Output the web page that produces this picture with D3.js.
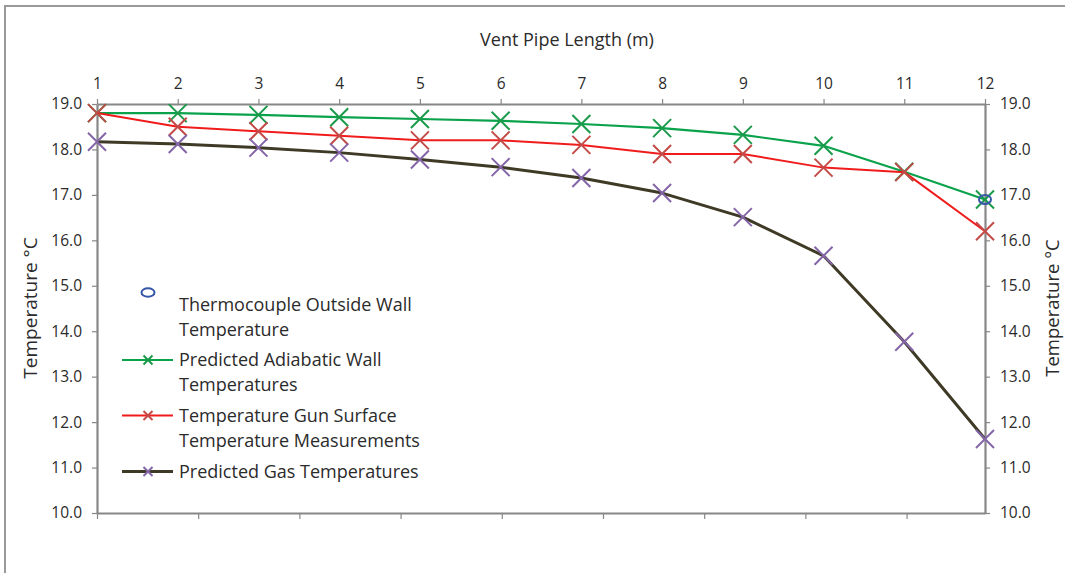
<!DOCTYPE html>
<html>
<head>
<meta charset="utf-8">
<script src="https://cdn.jsdelivr.net/npm/d3@7"></script>
<style>
  body { margin: 0; background: #fff; }
  svg { display: block; font-family: "Open Sans", Lato, sans-serif; }
</style>
</head>
<body>
<svg id="chart" width="1065" height="573"></svg>
<script>
// ---- data ----
const lengths = [1, 2, 3, 4, 5, 6, 7, 8, 9, 10, 11, 12];
const adiabaticWall = [18.80, 18.80, 18.76, 18.71, 18.67, 18.63, 18.56, 18.47, 18.32, 18.08, 17.51, 16.90];
const gunSurface = [18.8, 18.5, 18.4, 18.3, 18.2, 18.2, 18.1, 17.9, 17.9, 17.6, 17.5, 16.2];
const gasTemps = [18.17, 18.12, 18.04, 17.93, 17.78, 17.61, 17.37, 17.04, 16.51, 15.66, 13.77, 11.63];
const thermoLength = [12];
const thermoWall = [16.9];
const yTicks = [10, 11, 12, 13, 14, 15, 16, 17, 18, 19];
const bottomTicks = [0, 1, 2, 3, 4, 5, 6, 7, 8];
const legendNames = [
  ["Thermocouple Outside Wall", "Temperature"],
  ["Predicted Adiabatic Wall", "Temperatures"],
  ["Temperature Gun Surface", "Temperature Measurements"],
  ["Predicted Gas Temperatures"]
];
const xTitle = "Vent Pipe Length (m)";
const yTitle = "Temperature °C";

// ---- layout ----
const svg = d3.select("#chart");
const L = 97, R = 985, T = 104, B = 513;
const axisColor = "#878787";
const textColor = "#2b2b2b";
const font = "'Open Sans', Lato, sans-serif";

const x = d3.scaleLinear().domain([1, 12]).range([L, R]);
const xb = d3.scaleLinear().domain([0, 8.775]).range([L, R]);
const y = d3.scaleLinear().domain([10, 19]).range([B, T]);

// outer frame
svg.append("path").attr("d", `M5,573 V6 H1065`).attr("fill", "none")
  .attr("stroke", "#9a9a9a").attr("stroke-width", 2);

function styleAxis(g, fontSize) {
  g.select(".domain").attr("stroke", axisColor).attr("stroke-width", 2.2);
  g.selectAll(".tick line").attr("stroke", axisColor).attr("stroke-width", 1.2);
  g.selectAll(".tick text").attr("fill", textColor).attr("font-size", fontSize)
    .attr("font-family", font);
}

// bottom (unlabelled) axis
const gb = svg.append("g").attr("transform", `translate(0,${B})`)
  .call(d3.axisBottom(xb).tickValues(bottomTicks).tickSize(6).tickSizeOuter(0).tickFormat(""));
styleAxis(gb, 15);

// left axis
const gl = svg.append("g").attr("transform", `translate(${L},0)`)
  .call(d3.axisLeft(y).tickValues(yTicks).tickSize(5).tickSizeOuter(0).tickPadding(10).tickFormat(d3.format(".1f")));
styleAxis(gl, 15.5);

// right axis
const gr = svg.append("g").attr("transform", `translate(${R},0)`)
  .call(d3.axisRight(y).tickValues(yTicks).tickSize(5).tickSizeOuter(0).tickPadding(10).tickFormat(d3.format(".1f")));
styleAxis(gr, 15.5);

// top axis
const gt = svg.append("g").attr("transform", `translate(0,${T})`)
  .call(d3.axisTop(x).tickValues(lengths).tickSize(5).tickSizeOuter(0).tickPadding(10).tickFormat(d3.format("d")));
styleAxis(gt, 15.5);

// titles
svg.append("text").attr("x", 567).attr("y", 46).attr("text-anchor", "middle")
  .attr("font-size", 18).attr("fill", textColor).text(xTitle);
svg.append("text").attr("transform", "translate(37,308) rotate(-90)").attr("text-anchor", "middle")
  .attr("font-size", 19).attr("fill", textColor).text(yTitle);
svg.append("text").attr("transform", "translate(1059,308) rotate(-90)").attr("text-anchor", "middle")
  .attr("font-size", 18.5).attr("fill", textColor).text(yTitle);

// series
function xMarker(g, cx, cy, r, color, w) {
  g.append("path")
    .attr("d", `M${cx - r},${cy - r}L${cx + r},${cy + r}M${cx - r},${cy + r}L${cx + r},${cy - r}`)
    .attr("stroke", color).attr("stroke-width", w).attr("fill", "none");
}

const series = [
  { vals: adiabaticWall, line: "#0aa24b", lw: 2.2, mk: "#1a9a4a" },
  { vals: gunSurface, line: "#f01c1c", lw: 2.0, mk: "#c24b47" },
  { vals: gasTemps, line: "#3e3a26", lw: 3.0, mk: "#8466a8" }
];
const lineGen = d3.line().x((d, i) => x(lengths[i])).y(d => y(d));
const plot = svg.append("g");
series.forEach(s => {
  plot.append("path").datum(s.vals).attr("d", lineGen)
    .attr("fill", "none").attr("stroke", s.line).attr("stroke-width", s.lw)
    .attr("stroke-linejoin", "round");
  const mg = plot.append("g");
  s.vals.forEach((v, i) => xMarker(mg, x(lengths[i]), y(v), 9, s.mk, 2));
});
thermoWall.forEach((v, i) => {
  plot.append("ellipse").attr("cx", x(thermoLength[i])).attr("cy", y(v))
    .attr("rx", 6).attr("ry", 4.5).attr("fill", "none").attr("stroke", "#3557a8").attr("stroke-width", 2);
});

// legend
const lg = svg.append("g");
const legendRows = [
  { markY: 292.5, textY: [305, 330], type: "circle" },
  { markY: 360, textY: [360, 385], s: series[0] },
  { markY: 415.5, textY: [415.5, 440.5], s: series[1] },
  { markY: 471.5, textY: [471.5], s: series[2] }
];
legendRows.forEach((row, k) => {
  if (row.type === "circle") {
    lg.append("ellipse").attr("cx", 148).attr("cy", row.markY).attr("rx", 6.5).attr("ry", 4.3)
      .attr("fill", "none").attr("stroke", "#3557a8").attr("stroke-width", 2);
  } else {
    lg.append("line").attr("x1", 122).attr("x2", 173).attr("y1", row.markY).attr("y2", row.markY)
      .attr("stroke", row.s.line).attr("stroke-width", row.s.lw);
    xMarker(lg, 148, row.markY, 4.5, row.s.mk, 2);
  }
  legendNames[k].forEach((t, j) => {
    lg.append("text").attr("x", 179).attr("y", row.textY[j]).attr("dy", "0.35em")
      .attr("font-size", 18).attr("fill", textColor).text(t);
  });
});
</script>
</body>
</html>
